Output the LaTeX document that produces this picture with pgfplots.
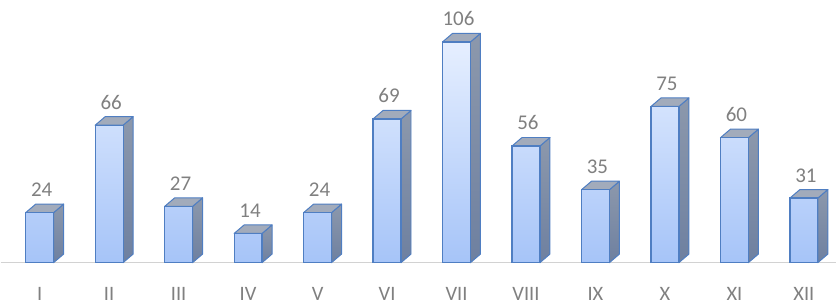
\documentclass[border=0pt]{standalone}
\usepackage{pgfplots}
\pgfplotsset{compat=1.18}
\usepackage{fontspec}
\setmainfont{Carlito}
\definecolor{edgeblue}{HTML}{4F7EC2}
\definecolor{toplight}{HTML}{E6EFFF}
\definecolor{botblue}{HTML}{A6C4F8}
\definecolor{sidetop}{HTML}{8C98AC}
\definecolor{sidebot}{HTML}{6E80A0}
\definecolor{topgray}{HTML}{A2ABBB}
\definecolor{lbl}{HTML}{808080}
\begin{document}
\begin{tikzpicture}
\begin{axis}[
  scale only axis, width=837pt, height=304pt,
  xmin=-0.560, xmax=11.466, ymin=-19.66, ymax=126.1,
  /pgf/number format/assume math mode=true,
  axis line style={draw=none}, major tick length=0pt,
  ytick=\empty, xtick={0,...,11},
  xticklabels={I,II,III,IV,V,VI,VII,VIII,IX,X,XI,XII},
  xticklabel style={anchor=center, inner sep=0pt, yshift=10pt, font=\fontsize{20.5}{22}\selectfont, text=lbl},
  clip=false,
]
\addplot[draw=gray!35, line width=1.5pt] coordinates {(-0.56,0) (11.466,0)};
\pgfplotsforeachungrouped \i/\v in {0/24,1/66,2/27,3/14,4/24,5/69,6/106,7/56,8/35,9/75,10/60,11/31} {
  \pgfmathsetmacro\xl{\i-0.201}
  \pgfmathsetmacro\xr{\i+0.201}
  \pgfmathsetmacro\xlb{\i-0.201+0.144}
  \pgfmathsetmacro\xrb{\i+0.201+0.144}
  \pgfmathsetmacro\vt{\v+4.1}
  \edef\temp{
    \noexpand\addplot[top color=sidetop, bottom color=sidebot, draw=edgeblue, line width=1pt, line join=round] coordinates {(\xr,0) (\xrb,4.1) (\xrb,\vt) (\xr,\v)} -- cycle;
    \noexpand\addplot[fill=topgray, draw=edgeblue, line width=1pt, line join=round] coordinates {(\xl,\v) (\xlb,\vt) (\xrb,\vt) (\xr,\v)} -- cycle;
  }
  \temp
}
\addplot[ybar, bar width=28pt, top color=toplight, bottom color=botblue, draw=edgeblue, line width=1.2pt,
  nodes near coords, every node near coord/.append style={font=\fontsize{21}{23}\selectfont, text=lbl, anchor=south, yshift=12pt, xshift=2pt}]
  coordinates {(0,24) (1,66) (2,27) (3,14) (4,24) (5,69) (6,106) (7,56) (8,35) (9,75) (10,60) (11,31)};
\end{axis}
\end{tikzpicture}
\end{document}
